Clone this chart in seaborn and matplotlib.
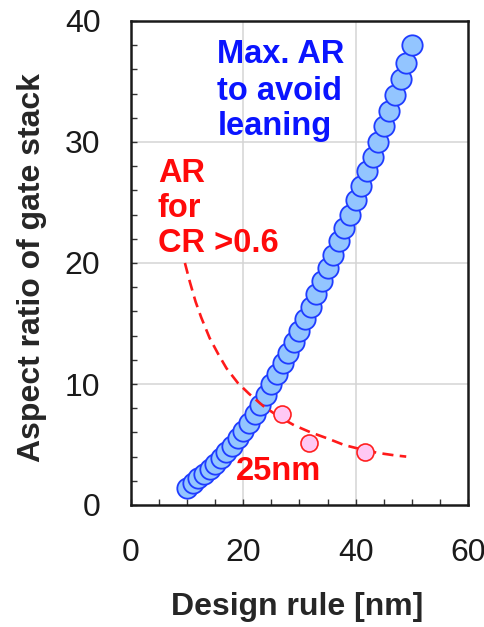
import matplotlib
matplotlib.use("Agg")
import matplotlib.pyplot as plt
import pandas as pd
import seaborn as sns
from matplotlib.ticker import MultipleLocator

# Maximum aspect ratio of the gate stack that avoids leaning, per design rule (nm)
rule_nm = list(range(10, 51))
max_ar = [1.4, 1.8, 2.2, 2.6, 3.0, 3.4, 3.9, 4.4, 4.9, 5.5,
          6.1, 6.8, 7.5, 8.3, 9.1, 10.0, 10.8, 11.7, 12.6, 13.5,
          14.4, 15.4, 16.4, 17.4, 18.5, 19.6, 20.7, 21.8, 22.9, 24.0,
          25.2, 26.4, 27.6, 28.8, 30.0, 31.3, 32.6, 33.9, 35.2, 36.5, 38.0]

# Aspect ratio needed for a coverage ratio above 0.6
cr_rule_nm = [9.6, 10.5, 11.5, 12.5, 14, 15.5, 17, 19, 21, 23.5,
              26, 29, 32, 35, 38, 41, 44, 47, 49]
cr_ar = [20.0, 18.4, 16.8, 15.5, 13.8, 12.5, 11.3, 10.1, 9.2, 8.2,
         7.4, 6.6, 6.0, 5.5, 4.95, 4.6, 4.3, 4.1, 4.0]

# Individual CR > 0.6 cases
case_rule_nm = [26.8, 31.7, 41.7]
case_ar = [7.5, 5.15, 4.35]

x_ticks = [0, 20, 40, 60]
y_ticks = [0, 10, 20, 30, 40]

sns.set_style("white")
plt.rcParams["font.family"] = ["Liberation Sans", "DejaVu Sans"]

blue_df = pd.DataFrame({"rule": rule_nm, "ar": max_ar})
cr_df = pd.DataFrame({"rule": cr_rule_nm, "ar": cr_ar})
case_df = pd.DataFrame({"rule": case_rule_nm, "ar": case_ar})

fig = plt.figure(figsize=(4.85, 6.27), dpi=100)
ax = fig.add_axes([131 / 485, 1 - 505 / 627, 337 / 485, 484 / 627])

ax.set_xlim(0, 60)
ax.set_ylim(0, 40)
ax.set_axisbelow(True)
for v in (20, 40):
    ax.axvline(v, color="#d4d4d4", lw=1.1, zorder=0)
for v in (10, 20, 30):
    ax.axhline(v, color="#d4d4d4", lw=1.1, zorder=0)

sns.scatterplot(data=blue_df, x="rule", y="ar", ax=ax, s=215,
                color="#93c5ff", edgecolor="#1f3cff", linewidth=1.3,
                zorder=3, legend=False)
sns.lineplot(data=cr_df, x="rule", y="ar", ax=ax, color="#ff1a1a",
             lw=1.9, linestyle=(0, (4.2, 2.4)), zorder=4, legend=False)
sns.scatterplot(data=case_df, x="rule", y="ar", ax=ax, s=150,
                color="#ffc8f4", edgecolor="#ff2020", linewidth=1.2,
                zorder=5, legend=False)

ax.set_xticks(x_ticks)
ax.set_yticks(y_ticks)
ax.xaxis.set_minor_locator(MultipleLocator(5))
ax.yaxis.set_minor_locator(MultipleLocator(2))
ax.tick_params(axis="both", which="both", direction="in", length=4.5,
               width=1.0, color="#333333", bottom=True, left=True,
               top=False, right=False)
ax.tick_params(axis="x", which="major", labelsize=23, pad=24,
               labelcolor="#1a1a1a")
ax.tick_params(axis="y", which="major", labelsize=23, pad=22,
               labelcolor="#1a1a1a")

for s in ax.spines.values():
    s.set_visible(True)
    s.set_color("#1a1a1a")
    s.set_linewidth(1.8)

ax.set_xlabel("Design rule [nm]", fontsize=23, fontweight="bold")
ax.set_ylabel("Aspect ratio of gate stack", fontsize=23, fontweight="bold")
ax.xaxis.set_label_coords(0.494, -0.18)
ax.yaxis.set_label_coords(-0.25, 0.49)

blue_lines = ["Max. AR", "to avoid", "leaning"]
for line, yb in zip(blue_lines, [36.5, 33.5, 30.6]):
    ax.text(15.4, yb, line, color="#0a14ff", fontsize=23.5, fontweight="bold",
            va="baseline", ha="left", zorder=6)

red_lines = ["AR", "for", "CR >0.6"]
for line, yb in zip(red_lines, [26.7, 23.8, 20.9]):
    ax.text(4.8, yb, line, color="#ff0a0a", fontsize=23.5, fontweight="bold",
            va="baseline", ha="left", zorder=6)

ax.text(18.6, 2.1, "25nm", color="#ff0a0a", fontsize=23.5, fontweight="bold",
        va="baseline", ha="left", zorder=6)

fig.savefig("out.png", dpi=100)
